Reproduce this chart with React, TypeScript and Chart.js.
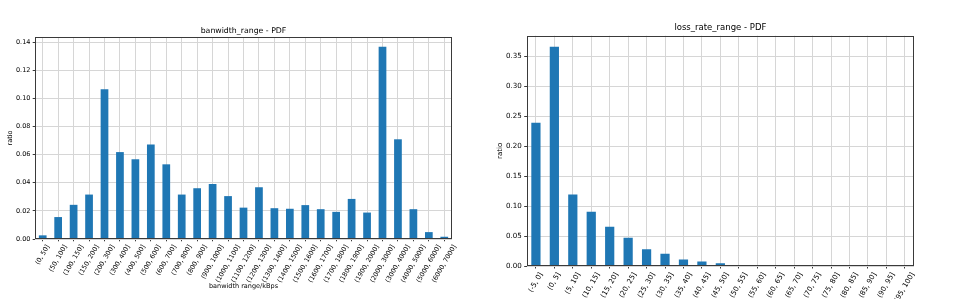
import React, { useEffect, useRef } from 'react';
import { Chart, registerables } from 'chart.js';

Chart.register(...registerables);

// ---------- data ----------
const bwCategories = [
  '(0, 50]', '(50, 100]', '(100, 150]', '(150, 200]', '(200, 300]', '(300, 400]',
  '(400, 500]', '(500, 600]', '(600, 700]', '(700, 800]', '(800, 900]', '(900, 1000]',
  '(1000, 1100]', '(1100, 1200]', '(1200, 1300]', '(1300, 1400]', '(1400, 1500]',
  '(1500, 1600]', '(1600, 1700]', '(1700, 1800]', '(1800, 1900]', '(1900, 2000]',
  '(2000, 3000]', '(3000, 4000]', '(4000, 5000]', '(5000, 6000]', '(6000, 7000]',
];
const bwRatio = [
  0.0026, 0.0156, 0.0243, 0.0316, 0.1064, 0.0618, 0.0567, 0.0672, 0.0531, 0.0316,
  0.0361, 0.0391, 0.0305, 0.0223, 0.0368, 0.0219, 0.0215, 0.0241, 0.0212, 0.0193,
  0.0285, 0.0188, 0.1367, 0.0709, 0.0212, 0.0049, 0.0016,
];
const bwTitle = 'banwidth_range - PDF';
const bwXTitle = 'banwidth range/kBps';

const lossCategories = [
  '(-5, 0]', '(0, 5]', '(5, 10]', '(10, 15]', '(15, 20]', '(20, 25]', '(25, 30]',
  '(30, 35]', '(35, 40]', '(40, 45]', '(45, 50]', '(50, 55]', '(55, 60]', '(60, 65]',
  '(65, 70]', '(70, 75]', '(75, 80]', '(80, 85]', '(85, 90]', '(90, 95]', '(95, 100]',
];
const lossRatio = [
  0.2393, 0.3660, 0.1194, 0.0905, 0.0656, 0.0472, 0.0278, 0.0205, 0.0110, 0.0077,
  0.0045, 0.0012, 0.0006, 0, 0, 0, 0, 0, 0, 0, 0,
];
const lossTitle = 'loss_rate_range - PDF';

const yLabel = 'ratio';

// ---------- styling ----------
const FONT = "'DejaVu Sans', 'Liberation Sans', sans-serif";
const BAR = '#1f77b4';
const GRID = '#d6d6d6';
const SPINE = '#3a3a3a';
const TEXT = '#000000';

type Spec = {
  labels: string[];
  values: number[];
  title: string;
  xTitle?: string;
  yMax: number;
  yStep: number;
  fs: number;
  titleFs: number;
  left: number;
  width: number;
  padRight: number;
  yAxisWidth: number;
  xAxisHeight: number;
  titlePadTop: number;
  titlePadBottom: number;
  yTitlePad: number;
  xTitlePadBottom: number;
  tickLen: number;
  tickPad: number;
};

const decorPlugin = {
  id: 'mplDecor',
  afterDraw(chart: any, _args: any, opts: any) {
    const { ctx, chartArea } = chart;
    const xs = chart.scales.x;
    ctx.save();
    // frame (spines)
    ctx.strokeStyle = SPINE;
    ctx.lineWidth = 1;
    const l = Math.round(chartArea.left) + 0.5;
    const t = Math.round(chartArea.top) + 0.5;
    const r = Math.round(chartArea.right) - 0.5;
    const b = Math.round(chartArea.bottom) - 0.5;
    ctx.strokeRect(l, t, r - l, b - t);
    // rotated x tick labels, matplotlib style (bbox centered under tick)
    ctx.font = `${opts.size}px ${FONT}`;
    ctx.fillStyle = TEXT;
    const ang = (60 * Math.PI) / 180;
    const h = opts.size * 1.16;
    const y0 = chartArea.bottom + opts.gap;
    const labels: string[] = chart.data.labels;
    labels.forEach((label, i) => {
      const x = xs.getPixelForValue(i);
      const w = ctx.measureText(label).width;
      const H = w * Math.sin(ang) + h * Math.cos(ang);
      ctx.save();
      ctx.translate(x, y0 + H / 2);
      ctx.rotate(-ang);
      ctx.textAlign = 'center';
      ctx.textBaseline = 'middle';
      ctx.fillText(label, 0, 0);
      ctx.restore();
    });
    ctx.restore();
  },
};

function BarPanel({ spec }: { spec: Spec }) {
  const ref = useRef<HTMLCanvasElement | null>(null);
  useEffect(() => {
    if (!ref.current) return;
    const s = spec;
    const chart = new Chart(ref.current, {
      type: 'bar',
      data: {
        labels: s.labels,
        datasets: [
          {
            data: s.values,
            backgroundColor: BAR,
            borderWidth: 0,
            barPercentage: 0.5,
            categoryPercentage: 1,
          },
        ],
      },
      plugins: [decorPlugin],
      options: {
        responsive: false,
        animation: false,
        devicePixelRatio: 1,
        layout: { padding: { left: 0, right: s.padRight, top: 0, bottom: 0 } },
        plugins: {
          legend: { display: false },
          tooltip: { enabled: false },
          title: {
            display: true,
            text: s.title,
            fullSize: false,
            color: TEXT,
            font: { family: FONT, size: s.titleFs, weight: 'normal', lineHeight: 1.2 },
            padding: { top: s.titlePadTop, bottom: s.titlePadBottom },
          },
          mplDecor: { size: s.fs, gap: s.tickLen + s.tickPad },
        } as any,
        scales: {
          x: {
            type: 'category',
            offset: true,
            z: 1,
            grid: {
              offset: false,
              color: GRID,
              lineWidth: 1,
              drawTicks: true,
              tickLength: s.tickLen,
              tickColor: SPINE,
              tickWidth: 1,
            },
            border: { display: false },
            ticks: { display: false },
            title: {
              display: !!s.xTitle,
              text: s.xTitle || '',
              color: TEXT,
              font: { family: FONT, size: s.fs, lineHeight: 1.2 },
              padding: { top: 0, bottom: s.xTitlePadBottom },
            },
            afterFit: (scale: any) => {
              scale.height = s.xAxisHeight;
            },
          },
          y: {
            type: 'linear',
            min: 0,
            max: s.yMax,
            z: 1,
            grid: {
              color: GRID,
              lineWidth: 1,
              drawTicks: true,
              tickLength: s.tickLen,
              tickColor: SPINE,
              tickWidth: 1,
            },
            border: { display: false },
            ticks: {
              stepSize: s.yStep,
              includeBounds: false,
              padding: s.tickPad,
              color: TEXT,
              font: { family: FONT, size: s.fs },
              callback: (v: any) => Number(v).toFixed(2),
            },
            title: {
              display: true,
              text: yLabel,
              color: TEXT,
              font: { family: FONT, size: s.fs, lineHeight: 1.2 },
              padding: { top: s.yTitlePad, bottom: 0 },
            },
            afterFit: (scale: any) => {
              scale.width = s.yAxisWidth;
            },
          },
        },
      } as any,
    });
    return () => chart.destroy();
  }, [spec]);
  return (
    <canvas
      ref={ref}
      width={spec.width}
      height={299}
      style={{ position: 'absolute', left: spec.left, top: 0, width: spec.width, height: 299 }}
    />
  );
}

const leftSpec: Spec = {
  labels: bwCategories,
  values: bwRatio,
  title: bwTitle,
  xTitle: bwXTitle,
  yMax: 0.1436,
  yStep: 0.02,
  fs: 6.5,
  titleFs: 7.8,
  left: 0,
  width: 460,
  padRight: 8,
  yAxisWidth: 35,
  xAxisHeight: 60,
  titlePadTop: 26,
  titlePadBottom: 1.7,
  yTitlePad: 6.4,
  xTitlePadBottom: 8.4,
  tickLen: 2.3,
  tickPad: 2.3,
};

const rightSpec: Spec = {
  labels: lossCategories,
  values: lossRatio,
  title: lossTitle,
  yMax: 0.3844,
  yStep: 0.05,
  fs: 7.1,
  titleFs: 8.5,
  left: 490,
  width: 473,
  padRight: 49,
  yAxisWidth: 36.7,
  xAxisHeight: 33,
  titlePadTop: 22.3,
  titlePadBottom: 3.2,
  yTitlePad: 5.8,
  xTitlePadBottom: 0,
  tickLen: 2.5,
  tickPad: 2.5,
};

export default function App() {
  return (
    <div
      style={{
        position: 'absolute',
        left: 0,
        top: 0,
        width: 963,
        height: 299,
        background: '#ffffff',
        overflow: 'hidden',
      }}
    >
      <BarPanel spec={leftSpec} />
      <BarPanel spec={rightSpec} />
    </div>
  );
}
